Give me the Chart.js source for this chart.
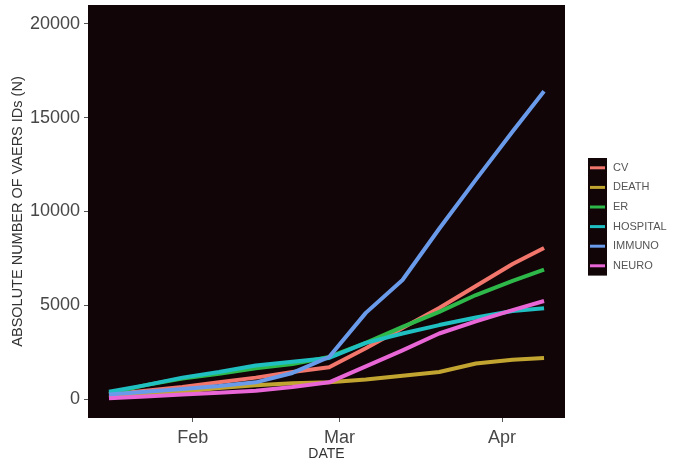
<!DOCTYPE html>
<html>
<head>
<meta charset="utf-8">
<script src="https://cdn.jsdelivr.net/npm/chart.js@4"></script>
<style>
  html, body { margin: 0; padding: 0; background: #fff; }
  #wrap { width: 676px; height: 464px; }
</style>
</head>
<body>
<div id="wrap"><canvas id="chart"></canvas></div>
<script>
// day of year (2021), roughly weekly
const days = [16, 23, 30, 37, 44, 51, 58, 65, 72, 79, 86, 93, 99];

const cv       = [250, 450, 650, 900, 1150, 1450, 1700, 2720, 3800, 4860, 6030, 7200, 8060];
const death    = [100, 250, 400, 600, 750, 850, 900, 1050, 1250, 1450, 1900, 2100, 2200];
const er       = [300, 750, 1100, 1350, 1650, 1870, 2250, 3000, 3850, 4650, 5550, 6300, 6900];
const hospital = [400, 750, 1150, 1450, 1800, 2000, 2200, 3000, 3500, 3950, 4350, 4700, 4850];
const immuno   = [250, 400, 550, 700, 900, 1400, 2250, 4600, 6350, 9080, 11700, 14260, 16400];
const neuro    = [50, 150, 250, 350, 450, 650, 900, 1750, 2600, 3500, 4150, 4750, 5230];

const seriesLabels = ["CV", "DEATH", "ER", "HOSPITAL", "IMMUNO", "NEURO"];
const seriesValues = [cv, death, er, hospital, immuno, neuro];
const seriesColors = ["#f2766b", "#c2a530", "#2fb84a", "#1fbfc2", "#6a9bea", "#e866d6"];

const yTicks = [0, 5000, 10000, 15000, 20000];
const xTickDays = [32, 60, 91];
const xTickLabels = ["Feb", "Mar", "Apr"];

const panelBg = {
    id: "panelBg",
    beforeDraw(chart) {
        const {ctx, chartArea: a} = chart;
        ctx.save();
        ctx.fillStyle = "#110508";
        ctx.fillRect(a.left, a.top, a.right - a.left, a.bottom - a.top);
        ctx.restore();
    }
};

// ggplot style legend with dark key column
const keyLegend = {
    id: "keyLegend",
    afterDraw(chart) {
        const ctx = chart.ctx;
        const x0 = 588, y0 = 158, keyW = 19, rowH = 19.6;
        ctx.save();
        ctx.fillStyle = "#110508";
        ctx.fillRect(x0, y0, keyW, rowH * seriesLabels.length);
        seriesLabels.forEach((label, i) => {
            const cy = y0 + rowH * i + rowH / 2;
            ctx.strokeStyle = seriesColors[i];
            ctx.lineWidth = 3;
            ctx.beginPath();
            ctx.moveTo(x0 + 2, cy);
            ctx.lineTo(x0 + keyW - 2, cy);
            ctx.stroke();
            ctx.fillStyle = "#555";
            ctx.font = "11px 'Liberation Sans', Arial, sans-serif";
            ctx.textBaseline = "middle";
            ctx.fillText(label, 613, cy);
        });
        ctx.restore();
    }
};

const datasets = seriesLabels.map((label, i) => ({
    label: label,
    data: days.map((d, j) => ({x: d, y: seriesValues[i][j]})),
    borderColor: seriesColors[i],
    borderWidth: 4,
    borderCapStyle: "butt",
    borderJoinStyle: "round",
    pointRadius: 0,
    tension: 0,
    order: seriesLabels.length - i
}));

new Chart(document.getElementById("chart"), {
    type: "line",
    data: {datasets: datasets},
    options: {
        responsive: true,
        maintainAspectRatio: false,
        animation: false,
        layout: {padding: {top: 5, right: 111, bottom: 0, left: 0}},
        plugins: {legend: {display: false}, tooltip: {enabled: false}},
        scales: {
            x: {
                type: "linear",
                min: 12,
                max: 103,
                afterBuildTicks: (scale) => { scale.ticks = xTickDays.map(v => ({value: v})); },
                afterFit: (scale) => {
                    scale.height = 46;
                    scale.paddingLeft = 0;
                    scale.paddingRight = 0;
                },
                ticks: {
                    color: "#474747",
                    font: {family: "'Liberation Sans', Arial, sans-serif", size: 18},
                    padding: 5,
                    maxRotation: 0,
                    callback: (v) => xTickLabels[xTickDays.indexOf(v)]
                },
                grid: {drawOnChartArea: false, drawTicks: true, tickLength: 4, tickColor: "#555"},
                border: {display: false},
                title: {
                    display: true,
                    text: "DATE",
                    color: "#333",
                    font: {family: "'Liberation Sans', Arial, sans-serif", size: 14},
                    padding: {top: 0, bottom: 1}
                }
            },
            y: {
                min: -1000,
                max: 21000,
                afterBuildTicks: (scale) => { scale.ticks = yTicks.map(v => ({value: v})); },
                afterFit: (scale) => {
                    scale.width = 88;
                    scale.paddingTop = 0;
                    scale.paddingBottom = 0;
                },
                ticks: {
                    color: "#474747",
                    font: {family: "'Liberation Sans', Arial, sans-serif", size: 18},
                    padding: 4,
                    callback: (v) => String(v)
                },
                grid: {drawOnChartArea: false, drawTicks: true, tickLength: 4, tickColor: "#555"},
                border: {display: false},
                title: {
                    display: true,
                    text: "ABSOLUTE NUMBER OF VAERS IDs (N)",
                    color: "#333",
                    font: {family: "'Liberation Sans', Arial, sans-serif", size: 14.5},
                    padding: {top: 9, bottom: 0}
                }
            }
        }
    },
    plugins: [panelBg, keyLegend]
});
</script>
</body>
</html>
